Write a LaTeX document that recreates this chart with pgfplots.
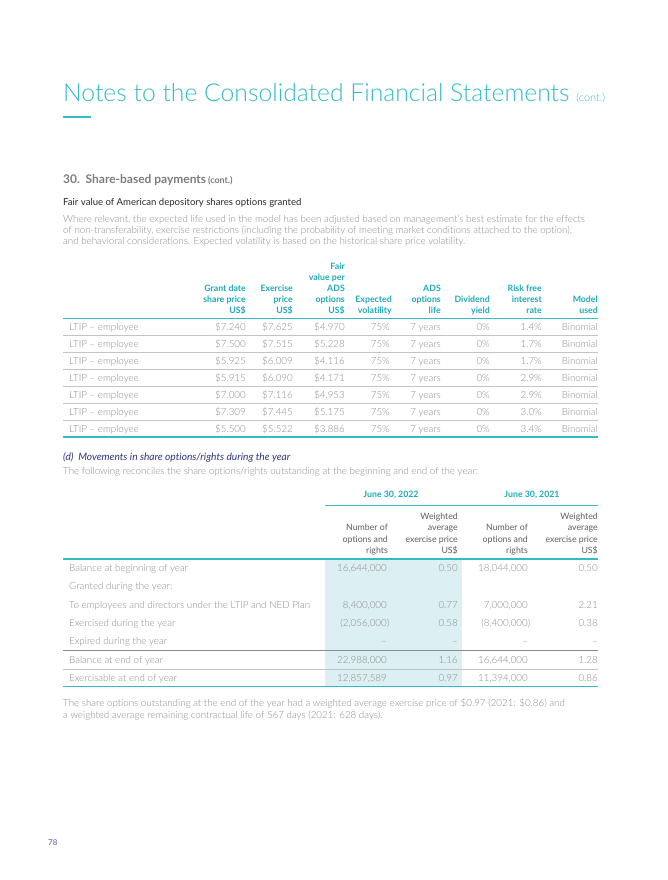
\documentclass[border=0pt]{standalone}
\usepackage{pgfplots}
\pgfplotsset{compat=1.18}
\usepackage{fontspec}
\setmainfont{Lato}[Ligatures={TeX,NoCommon}]
\newfontfamily\lightfont{Lato Light}[Ligatures={TeX,NoCommon}]
\definecolor{titleteal}{HTML}{33BCC8}
\definecolor{headteal}{HTML}{1EAAB8}
\definecolor{bodygray}{HTML}{8A8A8A}
\definecolor{secgray}{HTML}{7D7D7D}
\definecolor{darktext}{HTML}{2A2A2A}
\definecolor{navy}{HTML}{2E3580}
\definecolor{cellshade}{HTML}{DCEFF2}
\definecolor{rulegray}{HTML}{C4C4C4}
\definecolor{rulemid}{HTML}{8C8C8C}
\definecolor{pagenum}{HTML}{55589A}

% text helpers: x, y (image pixels, y down), text
\newcommand{\tw}[4][]{\node[anchor=base west,inner sep=0,#1] at (axis cs:#2,#3) {#4};}
\newcommand{\te}[4][]{\node[anchor=base east,inner sep=0,#1] at (axis cs:#2,#3) {#4};}
\newcommand{\tc}[4][]{\node[anchor=base,inner sep=0,#1] at (axis cs:#2,#3) {#4};}
\newcommand{\rul}[4]{\draw[#1] (axis cs:#2,#4) -- (axis cs:#3,#4);}

% table 1 row: y, grant, exercise, fair, rate
\newcommand{\ltip}[5]{%
  \tw[font=\bodyfont]{69}{#1}{LTIP – employee}
  \te[font=\bodyfont]{246}{#1}{\$#2}
  \te[font=\bodyfont]{293}{#1}{\$#3}
  \te[font=\bodyfont]{345}{#1}{\$#4}
  \te[font=\bodyfont]{390}{#1}{75\%}
  \te[font=\bodyfont]{441}{#1}{7 years}
  \te[font=\bodyfont]{490}{#1}{0\%}
  \te[font=\bodyfont]{542}{#1}{#5\%}
  \te[font=\bodyfont]{598}{#1}{Binomial}}
% table 2 row: y, label, n22, p22, n21, p21
\newcommand{\mrow}[6]{%
  \tw[font=\bodyfont]{69}{#1}{#2}
  \te[font=\bodyfont]{387}{#1}{#3}
  \te[font=\bodyfont]{458}{#1}{#4}
  \te[font=\bodyfont]{528}{#1}{#5}
  \te[font=\bodyfont]{598}{#1}{#6}}

\newcommand{\bodyfont}{\lightfont\fontsize{9.8}{11}\selectfont\color{bodygray}}
\newcommand{\headfont}{\bfseries\fontsize{8.8}{10}\selectfont\color{headteal}}
\newcommand{\colfont}{\fontsize{8.8}{10}\selectfont\color{darktext!75}}

\begin{document}
\begin{tikzpicture}
\begin{axis}[
  scale only axis,
  width=667bp, height=880bp,
  xmin=0, xmax=667, ymin=0, ymax=880,
  y dir=reverse,
  hide axis,
  clip=false
]
\fill[white] (axis cs:0,0) rectangle (axis cs:667,880);

% page title
\tw{63}{101}{{\lightfont\fontsize{24.8}{30}\selectfont\color{titleteal}Notes to the Consolidated Financial Statements}\hspace{7bp}{\lightfont\fontsize{11}{14}\selectfont\color{titleteal}(cont.)}}
\rul{titleteal,line width=1.5bp}{63}{91}{117}

% section heading
\tw{63}{183}{{\bfseries\fontsize{12}{14}\selectfont\color{secgray}30.\ \ Share-based payments}\hspace{2bp}{\bfseries\fontsize{9}{10}\selectfont\color{secgray}(cont.)}}
\tw{63}{205}{{\fontsize{9.6}{11}\selectfont\color{darktext}Fair value of American depository shares options granted}}
\tw{63}{222.5}{{\bodyfont Where relevant, the expected life used in the model has been adjusted based on management’s best estimate for the effects}}
\tw{63}{233.5}{{\bodyfont of non-transferability, exercise restrictions (including the probability of meeting market conditions attached to the option),}}
\tw{63}{244.5}{{\bodyfont and behavioral considerations. Expected volatility is based on the historical share price volatility.}}

% table 1 header
\te[font=\headfont]{345}{269}{Fair}
\te[font=\headfont]{345}{280}{value per}
\te[font=\headfont]{246}{291}{Grant date}
\te[font=\headfont]{293}{291}{Exercise}
\te[font=\headfont]{345}{291}{ADS}
\te[font=\headfont]{441}{291}{ADS}
\te[font=\headfont]{542}{291}{Risk free}
\te[font=\headfont]{246}{302}{share price}
\te[font=\headfont]{293}{302}{price}
\te[font=\headfont]{345}{302}{options}
\te[font=\headfont]{392}{302}{Expected}
\te[font=\headfont]{441}{302}{options}
\te[font=\headfont]{490}{302}{Dividend}
\te[font=\headfont]{542}{302}{interest}
\te[font=\headfont]{598}{302}{Model}
\te[font=\headfont]{246}{313}{US\$}
\te[font=\headfont]{293}{313}{US\$}
\te[font=\headfont]{345}{313}{US\$}
\te[font=\headfont]{392}{313}{volatility}
\te[font=\headfont]{441}{313}{life}
\te[font=\headfont]{490}{313}{yield}
\te[font=\headfont]{542}{313}{rate}
\te[font=\headfont]{598}{313}{used}
\rul{titleteal,line width=1.2bp}{63}{598}{318.5}

% table 1 rows
\ltip{330}{7.240}{7.625}{4.970}{1.4}
\rul{rulegray,line width=0.8bp}{63}{598}{335}
\ltip{347}{7.500}{7.515}{5.228}{1.7}
\rul{rulegray,line width=0.8bp}{63}{598}{352}
\ltip{364}{5.925}{6.009}{4.116}{1.7}
\rul{rulegray,line width=0.8bp}{63}{598}{369}
\ltip{381}{5.915}{6.090}{4.171}{2.9}
\rul{rulegray,line width=0.8bp}{63}{598}{386}
\ltip{398}{7.000}{7.116}{4.953}{2.9}
\rul{rulegray,line width=0.8bp}{63}{598}{403}
\ltip{415}{7.309}{7.445}{5.175}{3.0}
\rul{rulegray,line width=0.8bp}{63}{598}{420}
\ltip{432}{5.500}{5.522}{3.886}{3.4}
\rul{titleteal,line width=1.2bp}{63}{598}{437}

% section (d)
\tw{63}{460}{{\itshape\fontsize{10.2}{11}\selectfont\color{navy}(d)\ \ Movements in share options/rights during the year}}
\tw{63}{474}{{\bodyfont The following reconciles the share options/rights outstanding at the beginning and end of the year:}}

% table 2 header
\fill[cellshade] (axis cs:325,559) rectangle (axis cs:462,686.5);
\tc[font=\headfont]{391}{497}{June 30, 2022}
\tc[font=\headfont]{532}{497}{June 30, 2021}
\rul{titleteal,line width=1bp}{325}{598}{505}
\te[font=\colfont]{458}{519}{Weighted}
\te[font=\colfont]{598}{519}{Weighted}
\te[font=\colfont]{388}{530}{Number of}
\te[font=\colfont]{458}{530}{average}
\te[font=\colfont]{528}{530}{Number of}
\te[font=\colfont]{598}{530}{average}
\te[font=\colfont]{388}{542}{options and}
\te[font=\colfont]{458}{542}{exercise price}
\te[font=\colfont]{528}{542}{options and}
\te[font=\colfont]{598}{542}{exercise price}
\te[font=\colfont]{388}{553}{rights}
\te[font=\colfont]{458}{553}{US\$}
\te[font=\colfont]{528}{553}{rights}
\te[font=\colfont]{598}{553}{US\$}
\rul{titleteal,line width=1.2bp}{63}{598}{559}

% table 2 rows
\mrow{571}{Balance at beginning of year}{16,644,000}{0.50}{18,044,000}{0.50}
\tw[font=\bodyfont]{69}{589.5}{Granted during the year:}
\mrow{608}{To employees and directors under the LTIP and NED Plan}{8,400,000}{0.77}{7,000,000}{2.21}
\mrow{626}{Exercised during the year}{(2,056,000\rlap{)}}{0.58}{(8,400,000\rlap{)}}{0.38}
\mrow{644}{Expired during the year}{–\hspace{4bp}}{–\hspace{4bp}}{–\hspace{4bp}}{–\hspace{4bp}}
\rul{rulemid,line width=1bp}{63}{598}{650.5}
\mrow{663}{Balance at end of year}{22,988,000}{1.16}{16,644,000}{1.28}
\rul{rulegray,line width=0.8bp}{63}{598}{669}
\mrow{681}{Exercisable at end of year}{12,857,589}{0.97}{11,394,000}{0.86}
\rul{titleteal,line width=1.2bp}{63}{598}{686.5}

% closing note
\tw{63}{706}{{\bodyfont The share options outstanding at the end of the year had a weighted average exercise price of \$0.97 (2021: \$0.86) and}}
\tw{63}{718}{{\bodyfont a weighted average remaining contractual life of 567 days (2021: 628 days).}}

% page number
\tw{48}{845}{{\fontsize{8}{10}\selectfont\color{pagenum}78}}
\end{axis}
\end{tikzpicture}
\end{document}
